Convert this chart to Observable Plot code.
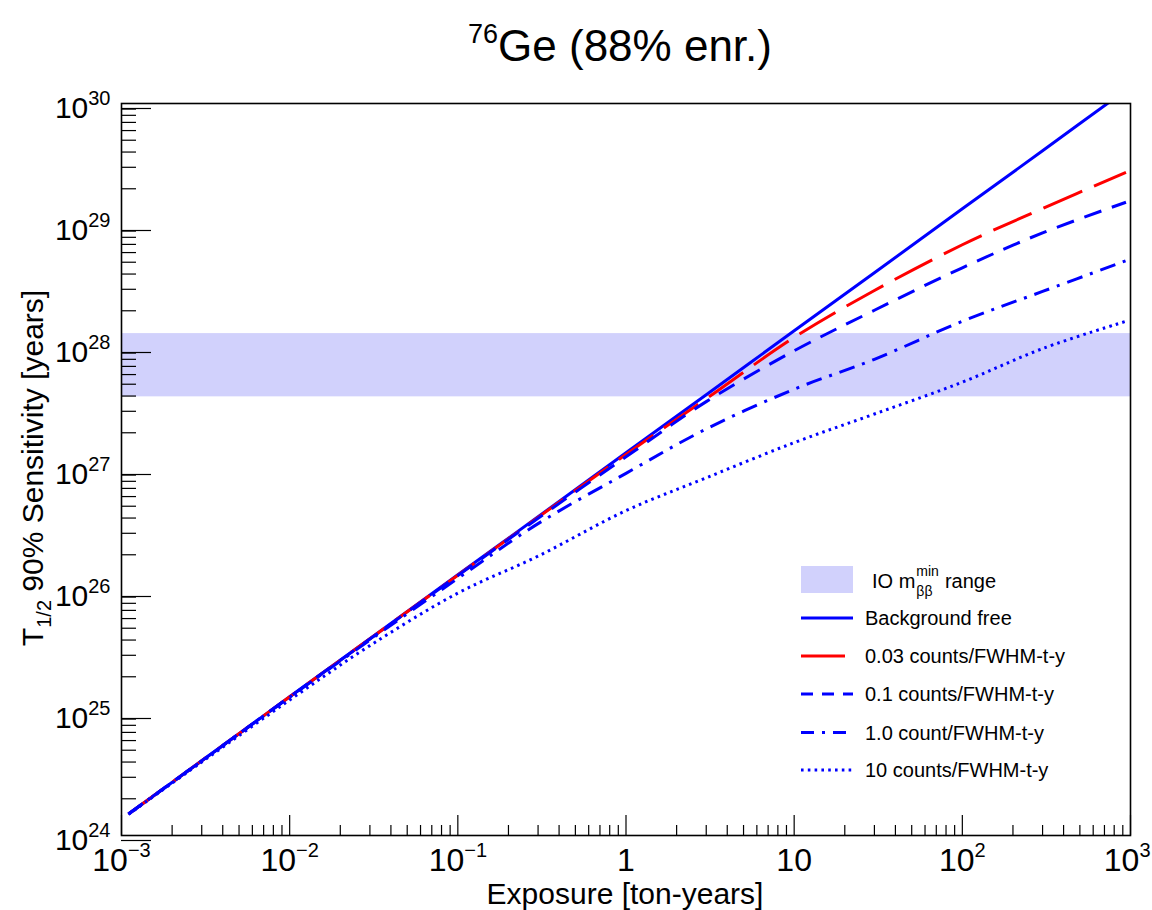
<!DOCTYPE html>
<html><head><meta charset="utf-8">
<script src="https://cdn.jsdelivr.net/npm/d3@7"></script>
<script src="https://cdn.jsdelivr.net/npm/@observablehq/plot@0.6"></script>
<style>
html,body{margin:0;padding:0;background:#fff;}
#chart{width:1152px;height:910px;}
</style></head>
<body><div id="chart"></div>
<script>
// ---- data ----
const exposure   = [0.0011, 0.003, 0.01, 0.03, 0.1, 0.3, 1, 3, 10, 30, 100, 300, 940];
const bgFree     = [1.5e24, 4.1e24, 1.37e25, 4.1e25, 1.37e26, 4.1e26, 1.37e27, 4.1e27, 1.37e28, 4.1e28, 1.37e29, 4.1e29, 1.29e30];
const bg003      = [1.5e24, 4.1e24, 1.37e25, 4.1e25, 1.36e26, 4.05e26, 1.33e27, 3.8e27, 1.21e28, 2.93e28, 6.95e28, 1.38e29, 2.73e29];
const bg01       = [1.5e24, 4.1e24, 1.37e25, 4.08e25, 1.35e26, 3.98e26, 1.27e27, 3.6e27, 9.4e27, 2.02e28, 4.5e28, 8.7e28, 1.55e29];
const bg1        = [1.5e24, 4.09e24, 1.36e25, 4.0e25, 1.28e26, 3.6e26, 9.3e26, 2.15e27, 4.55e27, 8.0e27, 1.64e28, 2.88e28, 5.14e28];
const bg10       = [1.49e24, 4.0e24, 1.29e25, 3.6e25, 9.7e25, 1.95e26, 4.6e26, 8.55e26, 1.66e27, 2.85e27, 5.2e27, 9.8e27, 1.64e28];
const seriesNames = ["Background free", "0.03 counts/FWHM-t-y", "0.1 counts/FWHM-t-y", "1.0 count/FWHM-t-y", "10 counts/FWHM-t-y"];
const ioBand     = [3.94e27, 1.3e28];   // IO m_bb^min range (low, high)
const xMajor     = [1e-3, 1e-2, 1e-1, 1, 10, 100, 1000];
const xMajorText = ["10^\u22123", "10^\u22122", "10^\u22121", "1", "10", "10^2", "10^3"];
const yMajor     = [1e24, 1e25, 1e26, 1e27, 1e28, 1e29, 1e30];
const yMajorText = ["10^24", "10^25", "10^26", "10^27", "10^28", "10^29", "10^30"];
const mantissas  = [2, 3, 4, 5, 6, 7, 8, 9];

// ---- styles ----
const FONT = "'Liberation Sans', Arial, Helvetica, sans-serif";
const BLUE = "#0000ff", RED = "#ff0000", BAND = "#d1d1fc";
const styles = [
  {stroke: BLUE, dash: null,          legendDash: null},
  {stroke: RED,  dash: "42,13",       legendDash: null},
  {stroke: BLUE, dash: "18,11",       legendDash: "12,9"},
  {stroke: BLUE, dash: "16,8,3,8",    legendDash: "13,8,3,8"},
  {stroke: BLUE, dash: "2.6,4.2",     legendDash: "2.6,4.2"}
];
const allSeries = [bgFree, bg003, bg01, bg1, bg10];

const xMinor = xMajor.slice(0, -1).flatMap(d => mantissas.map(m => m * d));
const yMinor = yMajor.slice(0, -1).flatMap(d => mantissas.map(m => m * d));

const lineMarks = allSeries.map((vals, k) =>
  Plot.line(exposure.map((e, i) => ({E: e, T: vals[i]})), {
    x: "E", y: "T", stroke: styles[k].stroke, strokeWidth: 3,
    strokeDasharray: styles[k].dash, strokeLinecap: "butt", strokeLinejoin: "round",
    curve: "catmull-rom", clip: true
  })
);

const chart = Plot.plot({
  width: 1152, height: 910,
  marginLeft: 121, marginRight: 22, marginTop: 103, marginBottom: 75,
  style: {fontFamily: FONT, background: "#fff", color: "#000", overflow: "visible"},
  x: {type: "log", domain: [1e-3, 1e3]},
  y: {type: "log", domain: [1e24, 1e30]},
  marks: [
    Plot.rect([ioBand], {y1: d => d[0], y2: d => d[1], fill: BAND}),
    ...lineMarks,
    Plot.axisX({ticks: xMinor, tickSize: -10, tickFormat: () => "", label: null, strokeWidth: 1.2}),
    Plot.axisX({ticks: xMajor, tickSize: -20, tickPadding: 33, fontSize: 32, label: null, strokeWidth: 1.2,
      tickFormat: d => xMajorText[xMajor.indexOf(d)]}),
    Plot.axisY({ticks: yMinor, tickSize: -15, tickFormat: () => "", label: null, strokeWidth: 1.2}),
    Plot.axisY({ticks: yMajor, tickSize: -30, tickPadding: 41, fontSize: 30, dy: 5, label: null, strokeWidth: 1.2,
      tickFormat: d => yMajorText[yMajor.indexOf(d)]}),
    Plot.frame({stroke: "#000", strokeWidth: 1.6})
  ]
});
document.getElementById("chart").appendChild(chart);

const svg = d3.select(chart);
// superscripts in tick labels
svg.selectAll('[aria-label="x-axis tick label"] text, [aria-label="y-axis tick label"] text').each(function () {
  const t = this.textContent;
  if (!t.includes("^")) return;
  const [base, ex] = t.split("^");
  const isX = this.parentNode.getAttribute("aria-label").startsWith("x");
  this.textContent = "";
  const s = d3.select(this);
  s.append("tspan").text(base);
  s.append("tspan").attr("font-size", 20).attr("dy", isX ? -14 : -13).text(ex);
});
// keep the last x label inside the picture
svg.selectAll('[aria-label="x-axis tick label"] text').filter(function () { return this.textContent === "10" + "3"; })
  .attr("text-anchor", "end").attr("dx", 20);

// title
const title = svg.append("text").attr("x", 620).attr("y", 61).attr("text-anchor", "middle")
  .attr("font-family", FONT).attr("font-size", 44).attr("fill", "#000");
title.append("tspan").attr("font-size", 27).attr("dy", -18).text("76");
title.append("tspan").attr("dy", 18).text("Ge (88% enr.)");

// x label
svg.append("text").attr("x", 625).attr("y", 904).attr("text-anchor", "middle")
  .attr("font-family", FONT).attr("font-size", 30).attr("fill", "#000").text("Exposure [ton-years]");

// y label
const yl = svg.append("text").attr("transform", "translate(43,468) rotate(-90)").attr("text-anchor", "middle")
  .attr("font-family", FONT).attr("font-size", 30).attr("fill", "#000");
yl.append("tspan").text("T");
yl.append("tspan").attr("font-size", 20).attr("dy", 8).text("1/2");
yl.append("tspan").attr("dy", -8).text(" 90% Sensitivity [years]");

// legend
const lg = svg.append("g").attr("font-family", FONT).attr("font-size", 20).attr("fill", "#000")
  .attr("text-anchor", "start");
lg.append("rect").attr("x", 801).attr("y", 566).attr("width", 52).attr("height", 27).attr("fill", BAND);
const io = lg.append("text").attr("x", 872).attr("y", 588).text("IO m");
const ioW = io.node().getComputedTextLength();
lg.append("text").attr("x", 872 + ioW + 1).attr("y", 576).attr("font-size", 14).text("min");
lg.append("text").attr("x", 872 + ioW + 1).attr("y", 596).attr("font-size", 14).text("\u03b2\u03b2");
lg.append("text").attr("x", 872 + ioW + 24).attr("y", 588).text(" range");
const rowsY = [618, 656, 694, 732.5, 770];
seriesNames.forEach((name, k) => {
  lg.append("line").attr("x1", 801).attr("x2", k === 1 ? 845 : 853).attr("y1", rowsY[k]).attr("y2", rowsY[k])
    .attr("stroke", styles[k].stroke).attr("stroke-width", 3)
    .attr("stroke-dasharray", styles[k].legendDash).attr("stroke-linecap", "butt");
  lg.append("text").attr("x", 865).attr("y", rowsY[k] + 7).text(name);
});
</script></body></html>
